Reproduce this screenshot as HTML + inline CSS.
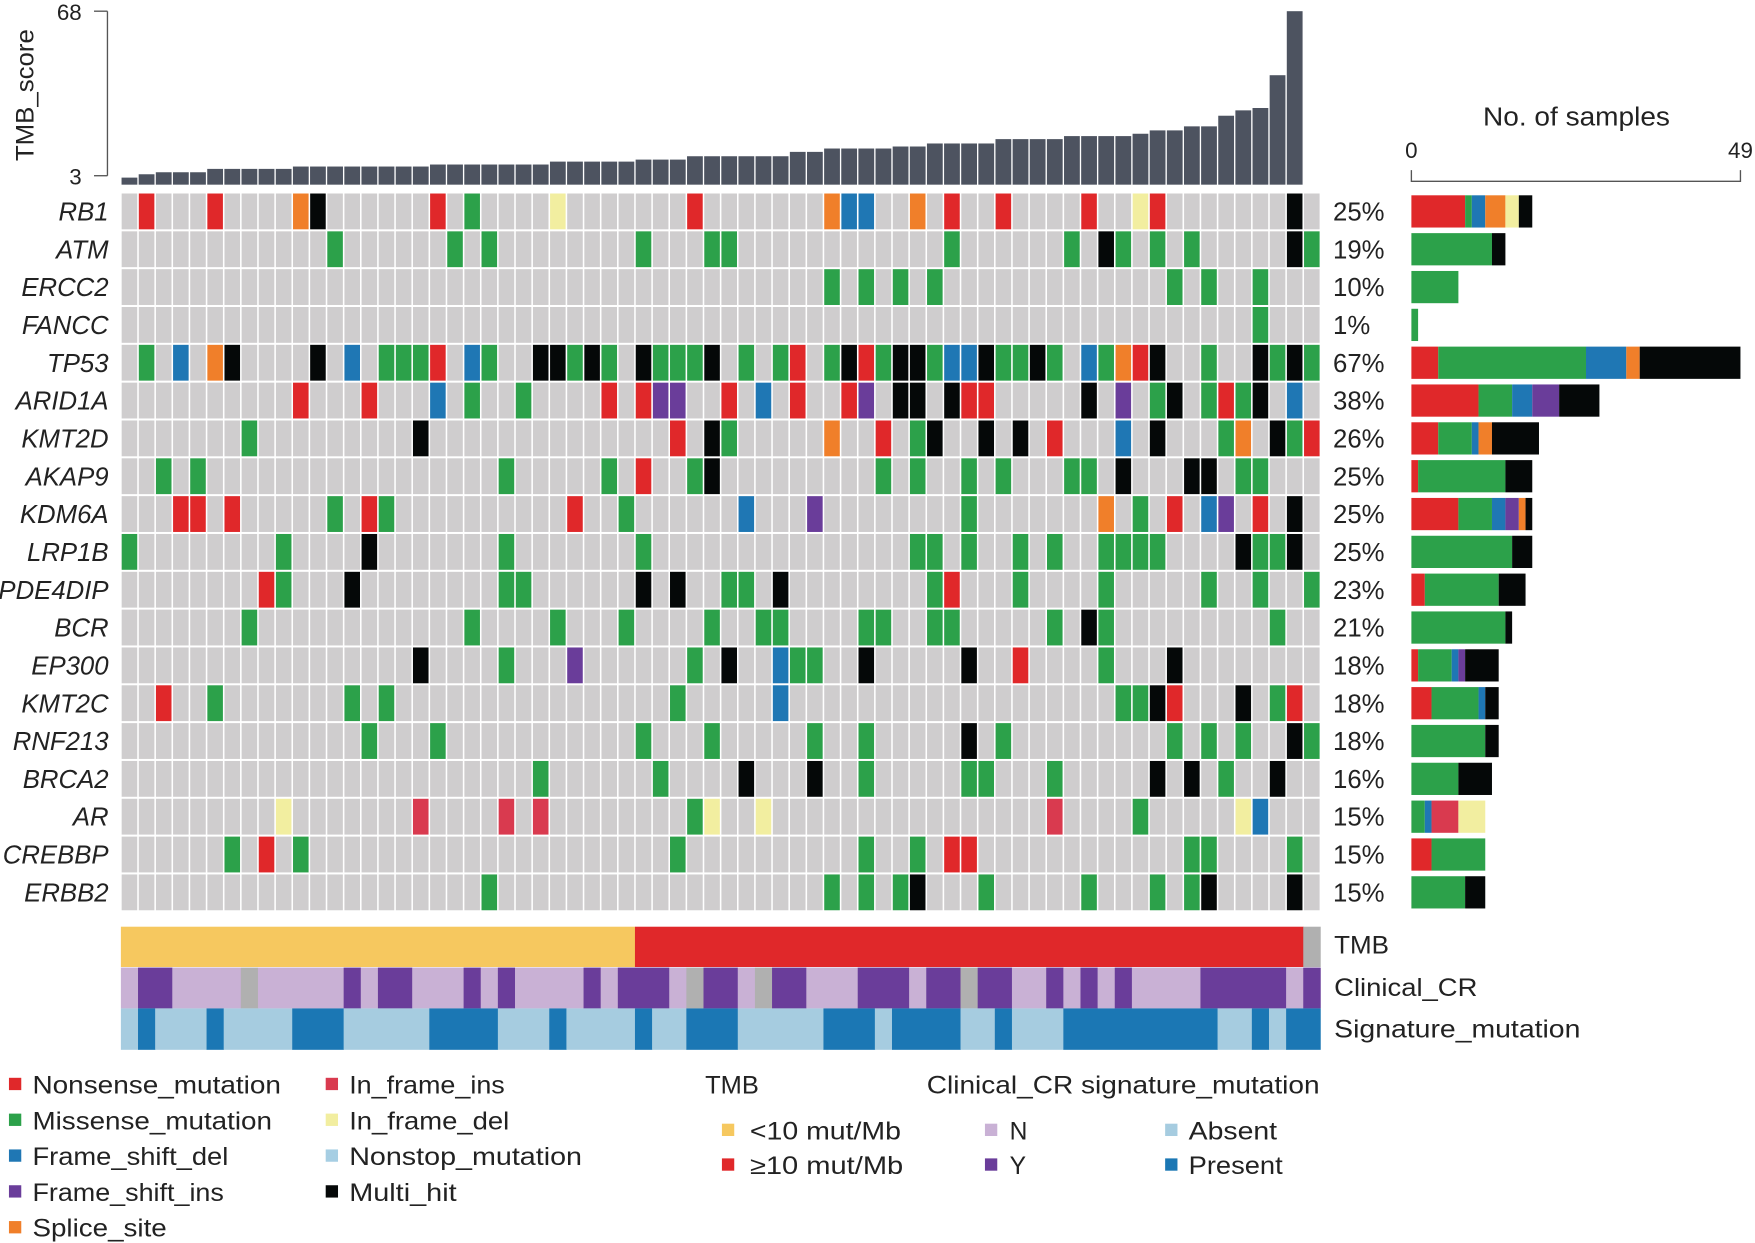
<!DOCTYPE html>
<html><head><meta charset="utf-8"><style>
html,body{margin:0;padding:0;background:#fff;width:1755px;height:1243px;overflow:hidden}
svg{display:block}
text{font-family:"Liberation Sans",sans-serif;fill:#222}
</style></head><body>
<svg id="s" width="1755" height="1243" viewBox="0 0 1568 1110.6" preserveAspectRatio="none" xmlns="http://www.w3.org/2000/svg">
<g id="g"></g>
<line x1="96" y1="10" x2="96" y2="157" stroke="#555" stroke-width="1.2"/>
<line x1="84" y1="10" x2="96" y2="10" stroke="#555" stroke-width="1.2"/>
<line x1="84" y1="157" x2="96" y2="157" stroke="#555" stroke-width="1.2"/>
<text x="73" y="18" font-size="20" text-anchor="end">68</text>
<text x="73" y="165" font-size="20" text-anchor="end">3</text>
<text transform="translate(30,144) rotate(-90)" font-size="22" textLength="118" lengthAdjust="spacingAndGlyphs">TMB_score</text>
<text x="1325" y="112" font-size="23" textLength="167" lengthAdjust="spacingAndGlyphs">No. of samples</text>
<text x="1261" y="141" font-size="20" text-anchor="middle">0</text>
<text x="1555" y="141" font-size="20" text-anchor="middle">49</text>
<polyline points="1261,152 1261,162 1555,162 1555,152" fill="none" stroke="#555" stroke-width="1.2"/>
<g font-size="22" lengthAdjust="spacingAndGlyphs">
<text x="1192" y="852" textLength="49" lengthAdjust="spacingAndGlyphs">TMB</text>
<text x="1192" y="890" textLength="128" lengthAdjust="spacingAndGlyphs">Clinical_CR</text>
<text x="1192" y="927" textLength="220" lengthAdjust="spacingAndGlyphs">Signature_mutation</text>
</g>
<g font-size="22">
<rect x="8" y="963" width="11" height="11" fill="#E0282A"/><text x="29" y="977" textLength="222" lengthAdjust="spacingAndGlyphs">Nonsense_mutation</text>
<rect x="8" y="995" width="11" height="11" fill="#2CA14A"/><text x="29" y="1009" textLength="214" lengthAdjust="spacingAndGlyphs">Missense_mutation</text>
<rect x="8" y="1027" width="11" height="11" fill="#1F77B4"/><text x="29" y="1041" textLength="175" lengthAdjust="spacingAndGlyphs">Frame_shift_del</text>
<rect x="8" y="1059" width="11" height="11" fill="#6A3D9A"/><text x="29" y="1073" textLength="171" lengthAdjust="spacingAndGlyphs">Frame_shift_ins</text>
<rect x="8" y="1091" width="11" height="11" fill="#F07F2A"/><text x="29" y="1105" textLength="120" lengthAdjust="spacingAndGlyphs">Splice_site</text>
<rect x="291" y="963" width="11" height="11" fill="#D93A4F"/><text x="312" y="977" textLength="139" lengthAdjust="spacingAndGlyphs">In_frame_ins</text>
<rect x="291" y="995" width="11" height="11" fill="#F2EEA0"/><text x="312" y="1009" textLength="143" lengthAdjust="spacingAndGlyphs">In_frame_del</text>
<rect x="291" y="1027" width="11" height="11" fill="#A6CEE3"/><text x="312" y="1041" textLength="208" lengthAdjust="spacingAndGlyphs">Nonstop_mutation</text>
<rect x="291" y="1059" width="11" height="11" fill="#050808"/><text x="312" y="1073" textLength="96" lengthAdjust="spacingAndGlyphs">Multi_hit</text>
<text x="630" y="977" textLength="48" lengthAdjust="spacingAndGlyphs">TMB</text>
<rect x="645" y="1004" width="11" height="11" fill="#F6C85F"/><text x="670" y="1018" textLength="135" lengthAdjust="spacingAndGlyphs">&lt;10 mut/Mb</text>
<rect x="645" y="1035" width="11" height="11" fill="#E0282A"/><text x="670" y="1049" textLength="137" lengthAdjust="spacingAndGlyphs">≥10 mut/Mb</text>
<text x="828" y="977" textLength="351" lengthAdjust="spacingAndGlyphs">Clinical_CR signature_mutation</text>
<rect x="880" y="1004" width="11" height="11" fill="#C9B1D5"/><text x="902" y="1018">N</text>
<rect x="880" y="1035" width="11" height="11" fill="#6A3D9A"/><text x="902" y="1049">Y</text>
<rect x="1041" y="1004" width="11" height="11" fill="#A6CCE0"/><text x="1062" y="1018" textLength="79" lengthAdjust="spacingAndGlyphs">Absent</text>
<rect x="1041" y="1035" width="11" height="11" fill="#1B77B4"/><text x="1062" y="1049" textLength="84" lengthAdjust="spacingAndGlyphs">Present</text>
</g>
</svg>
<script>
var NS="http://www.w3.org/2000/svg",G=document.getElementById("g");
function R(x,y,w,h,f){var r=document.createElementNS(NS,"rect");r.setAttribute("x",x);r.setAttribute("y",y);r.setAttribute("width",w);r.setAttribute("height",h);r.setAttribute("fill",f);G.appendChild(r);}
function T(x,y,s,a,it){var t=document.createElementNS(NS,"text");t.setAttribute("x",x);t.setAttribute("y",y);t.setAttribute("font-size","23");if(a)t.setAttribute("text-anchor",a);if(it)t.setAttribute("font-style","italic");t.textContent=s;G.appendChild(t);}
var C={N:"#E0282A",M:"#2CA14A",D:"#1F77B4",I:"#6A3D9A",S:"#F07F2A",n:"#D93A4F",d:"#F2EEA0",X:"#050808"};
var order="NMDISndX";
var genes=["RB1","ATM","ERCC2","FANCC","TP53","ARID1A","KMT2D","AKAP9","KDM6A","LRP1B","PDE4DIP","BCR","EP300","KMT2C","RNF213","BRCA2","AR","CREBBP","ERBB2"];
var pct=["25%","19%","10%","1%","67%","38%","26%","25%","25%","25%","23%","21%","18%","18%","18%","16%","15%","15%","15%"];
var data=[
"1N 5N 10S 11X 18N 20M 25d 33N 41S 42D 43D 46S 48N 51N 56N 59d 60N 68X",
"12M 19M 21M 30M 34M 35M 48M 55M 57X 58M 60M 62M 68X 69M",
"41M 43M 45M 47M 61M 63M 66M",
"66M",
"1M 3D 5S 6X 11X 13D 15M 16M 17M 18N 20D 21M 24X 25X 26M 27X 28M 30X 31M 32M 33M 34X 36M 38M 39N 41M 42X 43N 44M 45X 46X 47M 48D 49D 50X 51M 52M 53X 54M 56D 57M 58S 59N 60X 63M 66X 67M 68X 69M",
"10N 14N 18D 20M 23M 28N 30N 31I 32I 35N 37D 39N 42N 43I 45X 46X 48X 49N 50N 56X 58I 60M 61X 63M 64N 65M 66X 68D",
"7M 17X 32N 34X 35M 41S 44N 46M 47X 50X 52X 54N 58D 60X 64M 65S 67X 68M 69N",
"2M 4M 22M 28M 30N 33M 34X 44M 46M 49M 51M 55M 56M 58X 62X 63X 65M 66M",
"3N 4N 6N 12M 14N 15M 26N 29M 36D 40I 49M 57S 59M 61N 63D 64I 66N 68X",
"0M 9M 14X 22M 30M 46M 47M 49M 52M 54M 57M 58M 59M 60M 65X 66M 67M 68X",
"8N 9M 13X 22M 23M 30X 32X 35M 36M 38X 47M 48N 52M 57M 63M 66M 69M",
"7M 20M 25M 29M 34M 37M 38M 43M 44M 47M 48M 54M 56X 57M 67M",
"17X 22M 26I 33M 35X 38D 39M 40M 43X 49X 52N 57M 61X",
"2N 5M 13M 15M 32M 38D 58M 59M 60X 61N 65X 67M 68N",
"14M 18M 30M 34M 40M 43M 49X 51M 61M 63M 65M 68X 69M",
"24M 31M 36X 40X 43M 49M 50M 54M 60X 62X 64M 67X",
"9d 17n 22n 24n 33M 34d 37d 54n 59M 65d 66D",
"6M 8N 10M 32M 43M 46M 48N 49N 62M 63M 68M",
"21M 41M 43M 45M 46X 50M 56M 60M 62M 63X 68X"];
var X0=108,CW=15.31,Y0=172,RH=33.8;
for(var r=0;r<19;r++){
 var m={};data[r].split(" ").forEach(function(s){m[parseInt(s)]=s.replace(/[0-9]/g,"");});
 var y=Y0+RH*r;
 for(var c=0;c<70;c++){R(X0+CW*c+0.7,y+0.9,CW-1.4,RH-1.8,m[c]?C[m[c]]:"#CFCDCE");}
 T(97,y+25,genes[r],"end",true);
 T(1191,y+25,pct[r]);
 var cnt={};for(var k in m)cnt[m[k]]=(cnt[m[k]]||0)+1;
 var bx=1261;
 for(var i=0;i<order.length;i++){var t=order[i];if(cnt[t]){var w=cnt[t]*6.0;R(bx,y+2.5,w,RH-5,C[t]);bx+=w;}}
}
var H=[6.3,9.3,11.1,11.1,11.1,14.1,14.1,14.1,14.1,14.1];
for(var i=10;i<18;i++)H.push(16.2);for(i=18;i<25;i++)H.push(18);for(i=25;i<30;i++)H.push(20.6);
for(i=30;i<33;i++)H.push(22.4);for(i=33;i<39;i++)H.push(25.4);H.push(29.3,29.3);
for(i=41;i<45;i++)H.push(32.3);H.push(34.1,34.1);for(i=47;i<51;i++)H.push(36.8);
for(i=51;i<55;i++)H.push(40.7);for(i=55;i<59;i++)H.push(43.4);H.push(45.5,48.5,48.5,52.1,52.1,61.6,66.4,68.5,97.8,155);
for(i=0;i<H.length;i++)R(X0+CW*i+0.6,165-H[i],CW-1.2,H[i],"#4D5360");
function segs(y,h,list,cols){var c=0;list.forEach(function(p){R(X0+CW*c,y,CW*p[0]+0.3,h,cols[p[1]]);c+=p[0];});}
segs(828,36,[[30,"a"],[39,"b"],[1,"g"]],{a:"#F6C85F",b:"#E0282A",g:"#B0B0B0"});
var cc=[[1,"N"],[2,"Y"],[4,"N"],[1,"G"],[5,"N"],[1,"Y"],[1,"N"],[2,"Y"],[3,"N"],[1,"Y"],[1,"N"],[1,"Y"],[4,"N"],[1,"Y"],[1,"N"],[3,"Y"],[1,"N"],[1,"G"],[2,"Y"],[1,"N"],[1,"G"],[2,"Y"],[3,"N"],[3,"Y"],[1,"N"],[2,"Y"],[1,"G"],[2,"Y"],[2,"N"],[1,"Y"],[1,"N"],[1,"Y"],[1,"N"],[1,"Y"],[4,"N"],[5,"Y"],[1,"N"],[1,"Y"]];
segs(864.5,36.5,cc,{N:"#C9B1D5",Y:"#6A3D9A",G:"#B0B0B0"});
var sc=[[1,"A"],[1,"P"],[3,"A"],[1,"P"],[4,"A"],[3,"P"],[5,"A"],[4,"P"],[3,"A"],[1,"P"],[4,"A"],[1,"P"],[2,"A"],[3,"P"],[5,"A"],[3,"P"],[1,"A"],[4,"P"],[2,"A"],[1,"P"],[3,"A"],[9,"P"],[2,"A"],[1,"P"],[1,"A"],[2,"P"]];
segs(901,37,sc,{A:"#A6CCE0",P:"#1B77B4"});
</script>
</body></html>
